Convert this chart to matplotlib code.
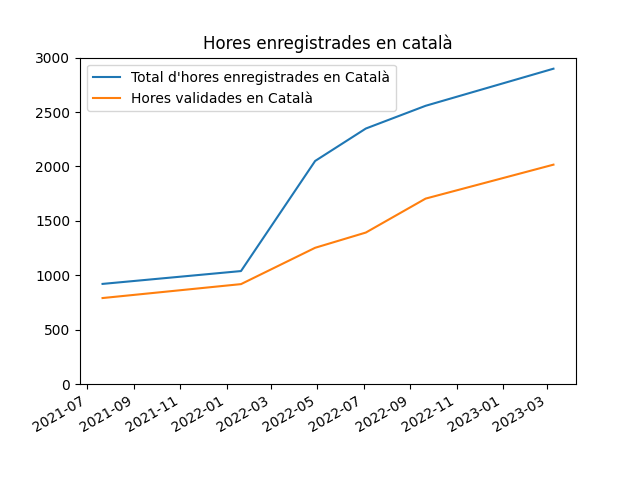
import numpy as np
import pandas as pd
import matplotlib
matplotlib.use("Agg")
import matplotlib.pyplot as plt

dates = pd.to_datetime(["2021-07-21", "2022-01-20", "2022-04-28",
                        "2022-07-04", "2022-09-21", "2023-03-09"])
total_hours = [920, 1038, 2050, 2348, 2557, 2898]
validated_hours = [790, 918, 1252, 1392, 1704, 2016]

fig, ax = plt.subplots(figsize=(6.4, 4.8), dpi=100)
ax.plot(dates, total_hours, label="Total d'hores enregistrades en Català")
ax.plot(dates, validated_hours, label="Hores validades en Català")
ax.set_ylim(0, 3000)
ax.set_title("Hores enregistrades en català")
ax.legend(loc="upper left")
fig.autofmt_xdate()
fig.savefig("out.png")
